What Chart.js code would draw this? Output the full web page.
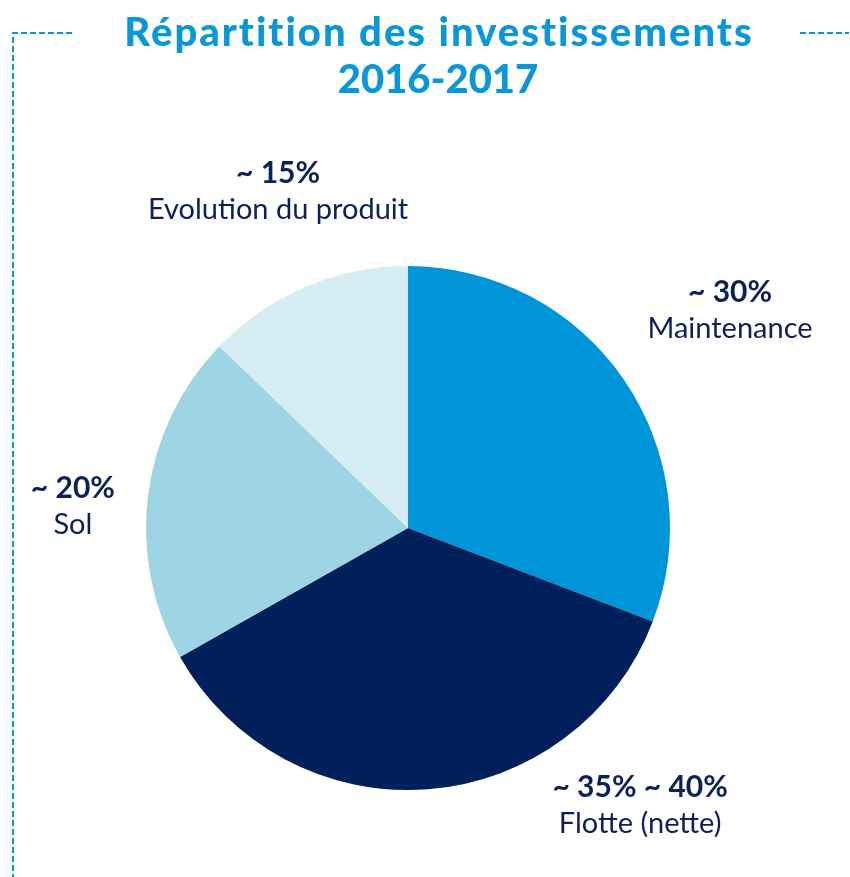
<!DOCTYPE html>
<html>
<head>
<meta charset="utf-8">
<script src="https://cdn.jsdelivr.net/npm/chart.js@4/dist/chart.umd.min.js"></script>
<style>
  html, body { margin: 0; padding: 0; background: #fff; }
  #wrap { width: 850px; height: 877px; position: relative; }
</style>
</head>
<body>
<div id="wrap"><canvas id="chart"></canvas></div>
<script>
const categories = ["Maintenance", "Flotte (nette)", "Sol", "Evolution du produit"];
const shareValues = [30.8, 36, 20.4, 12.8];
const shareLabels = ["~ 30%", "~ 35% ~ 40%", "~ 20%", "~ 15%"];
const sliceColors = ["#0094d9", "#00205b", "#9dd5e5", "#d6edf4"];
const titleLines = ["Répartition des investissements", "2016-2017"];

const BLUE = "#0a97d9";
const NAVY = "#0b2158";

// label anchor offsets, in units of the pie radius, from the pie centre
const labelOffsets = [
  [1.229, -0.832],
  [0.886, 1.057],
  [-1.279, -0.084],
  [-0.496, -1.286],
];

const framePlugin = {
  id: "frame",
  beforeDraw(chart) {
    const ctx = chart.ctx;
    ctx.save();
    ctx.strokeStyle = BLUE;
    ctx.lineWidth = 2;
    ctx.setLineDash([6, 3]);
    ctx.beginPath();
    ctx.moveTo(72, 33);
    ctx.lineTo(13, 33);
    ctx.lineTo(13, chart.height);
    ctx.moveTo(800, 33);
    ctx.lineTo(849, 33);
    ctx.stroke();
    ctx.restore();

    // title, spaced out a bit like the original heavy face
    ctx.save();
    ctx.fillStyle = BLUE;
    ctx.textAlign = "center";
    ctx.textBaseline = "middle";
    ctx.font = "900 40px Lato";
    ctx.letterSpacing = "2px";
    ctx.fillText(titleLines[0], 439, 33);
    ctx.letterSpacing = "0px";
    ctx.fillText(titleLines[1], 438, 80);
    ctx.restore();
  },
};

const labelPlugin = {
  id: "sliceLabels",
  afterDraw(chart) {
    const ctx = chart.ctx;
    const meta = chart.getDatasetMeta(0);
    ctx.save();
    ctx.textAlign = "center";
    ctx.textBaseline = "middle";
    ctx.fillStyle = NAVY;
    meta.data.forEach((arc, i) => {
      const r = arc.outerRadius;
      const x = arc.x + labelOffsets[i][0] * r;
      const y = arc.y + labelOffsets[i][1] * r;
      ctx.font = "bold 30px Lato";
      ctx.fillText(shareLabels[i], x, y - 18);
      ctx.font = "29px Lato";
      ctx.fillText(categories[i], x, y + 19);
    });
    ctx.restore();
  },
};

new Chart(document.getElementById("chart"), {
  type: "pie",
  data: {
    labels: categories,
    datasets: [
      {
        data: shareValues,
        backgroundColor: sliceColors,
        borderWidth: 0,
        hoverOffset: 0,
      },
    ],
  },
  options: {
    responsive: true,
    maintainAspectRatio: false,
    animation: false,
    events: [],
    layout: { padding: { left: 146, right: 180, top: 266, bottom: 87 } },
    plugins: {
      legend: { display: false },
      tooltip: { enabled: false },
      title: { display: false },
    },
  },
  plugins: [framePlugin, labelPlugin],
});
</script>
</body>
</html>
